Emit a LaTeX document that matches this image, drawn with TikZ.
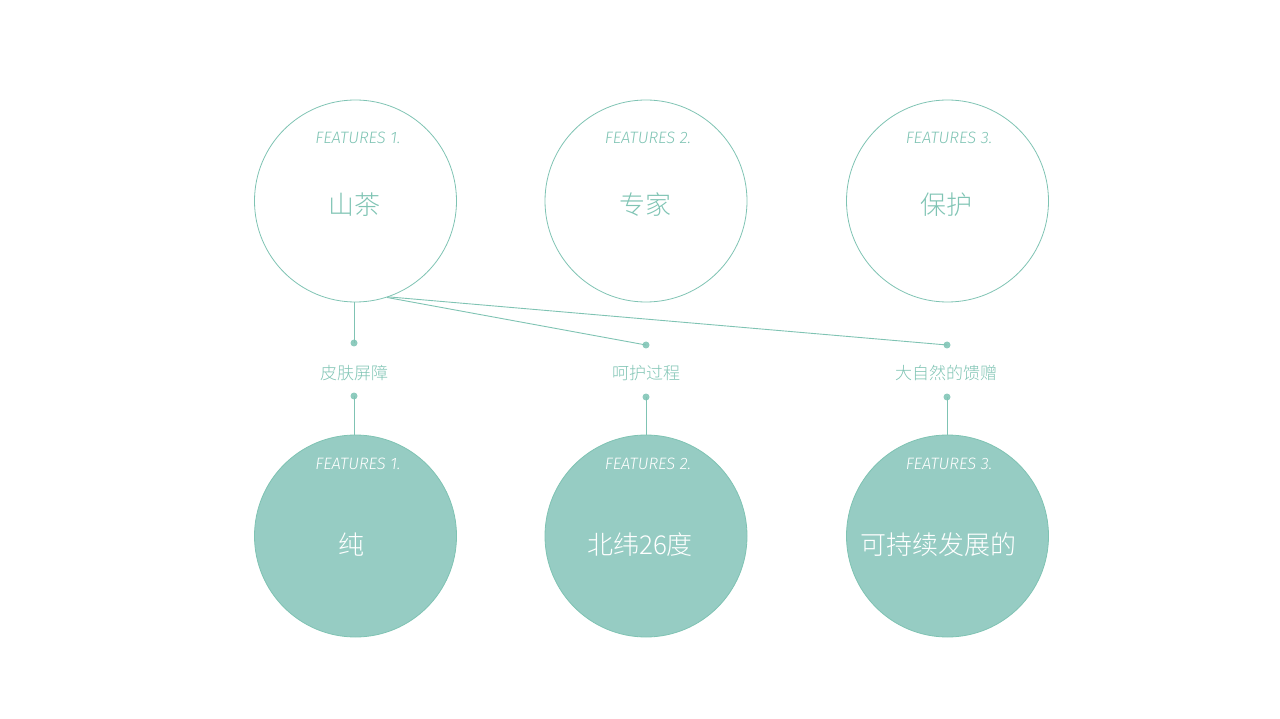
\documentclass[tikz,border=0pt]{standalone}
\usepackage{fontspec}
\setmainfont{Fira Sans}
\newfontfamily\cjk[UprightFont=* Light]{Noto Sans CJK SC}
\newfontfamily\featfont[UprightFont=* Light Italic]{Fira Sans}
\definecolor{teal}{HTML}{8ECBBE}
\definecolor{tline}{HTML}{7FC3B3}
\definecolor{tfill}{HTML}{96CCC3}
\definecolor{ttext}{HTML}{80C4B4}
\begin{document}
\begin{tikzpicture}[x=1pt,y=-1pt,
  ring/.style={circle,draw=tline,line width=0.8pt,minimum size=202pt,inner sep=0pt},
  disc/.style={circle,draw=tline,fill=tfill,line width=0.8pt,minimum size=202pt,inner sep=0pt},
  feat/.style={font=\featfont\fontsize{16.5}{19}\selectfont},
  big/.style={font=\cjk\fontsize{26}{30}\selectfont},
  lbl/.style={font=\cjk\fontsize{17}{20}\selectfont,text=ttext},
  dotc/.style={circle,fill=teal,inner sep=0pt,minimum size=7pt},
  conn/.style={draw=tline,line width=0.9pt}]
\useasboundingbox (0,0) rectangle (1280,719);
% top circles
\node[ring] (t1) at (355.5,201) {};
\node[ring] (t2) at (646,201) {};
\node[ring] (t3) at (947.5,201) {};
% bottom circles
\node[disc] (b1) at (355.5,536) {};
\node[disc] (b2) at (646,536) {};
\node[disc] (b3) at (947.5,536) {};
% texts top
\node[feat,text=ttext] (f1) at (358,138) {FEATURES 1.};
\node[feat,text=ttext] (f2) at (648,138) {FEATURES 2.};
\node[feat,text=ttext] (f3) at (949,138) {FEATURES 3.};
\node[big,text=ttext] (m1) at (354,205) {山茶};
\node[big,text=ttext] (m2) at (645,205) {专家};
\node[big,text=ttext] (m3) at (946,205) {保护};
% texts bottom
\node[feat,text=white] (g1) at (358,464) {FEATURES 1.};
\node[feat,text=white] (g2) at (648,464) {FEATURES 2.};
\node[feat,text=white] (g3) at (949,464) {FEATURES 3.};
\node[big,text=white] (n1) at (351,545) {纯};
\node[big,text=white] (n2) at (640,545) {北纬26度};
\node[big,text=white] (n3) at (938,545) {可持续发展的};
% dots
\node[dotc] (d1a) at (354,343) {};
\node[dotc] (d2a) at (646,345) {};
\node[dotc] (d3a) at (947,345) {};
\node[dotc] (d1b) at (354,396) {};
\node[dotc] (d2b) at (646,397) {};
\node[dotc] (d3b) at (947,397) {};
% labels
\node[lbl] (l1) at (354,373) {皮肤屏障};
\node[lbl] (l2) at (646,373) {呵护过程};
\node[lbl] (l3) at (946,373) {大自然的馈赠};
% connectors
\draw[conn] (t1.south -| d1a) -- (d1a.center);
\draw[conn] (t1.-72.5) -- (d2a.center);
\draw[conn] (t1.-71.5) -- (d3a.center);
\draw[conn] (d1b.center) -- (d1b |- b1.north);
\draw[conn] (d2b.center) -- (b2.north);
\draw[conn] (d3b.center) -- (b3.north -| d3b);
\end{tikzpicture}
\end{document}
